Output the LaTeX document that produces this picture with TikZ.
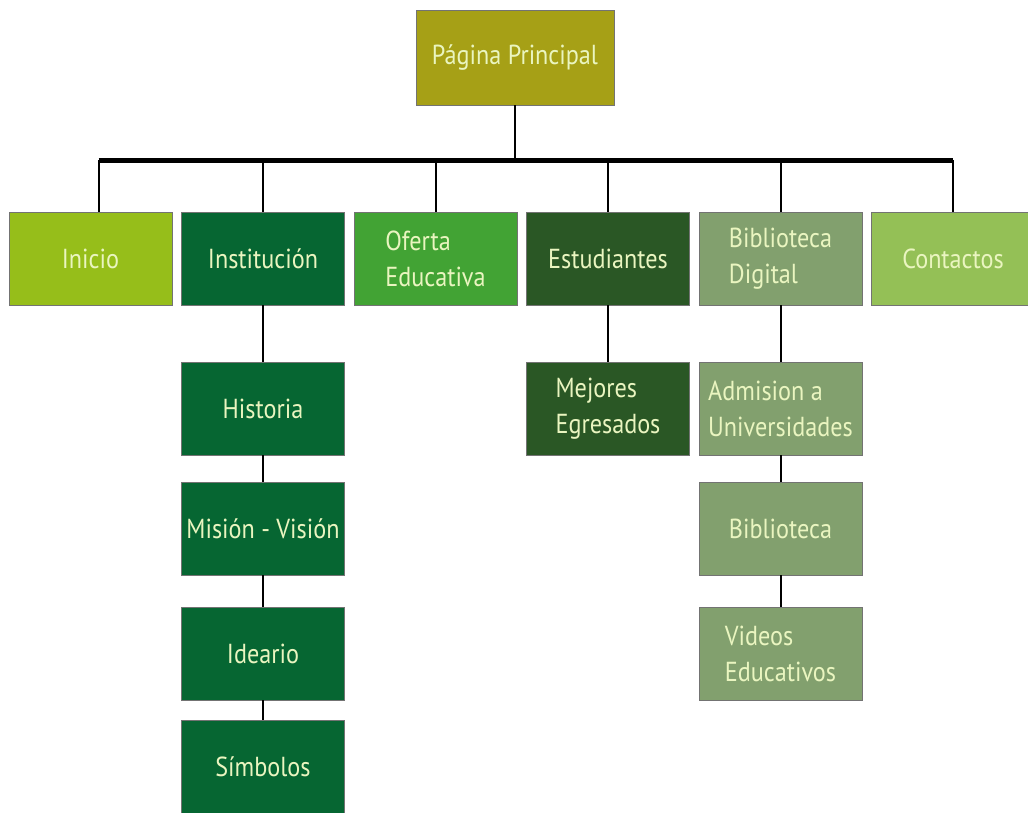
\documentclass[tikz,border=0pt]{standalone}
\usepackage{fontspec}
\setmainfont[FakeStretch=0.88]{PT Sans}
\usepackage{tikz}
\usetikzlibrary{positioning}

\definecolor{olivo}{RGB}{166,160,22}
\definecolor{inicio}{RGB}{150,190,26}
\definecolor{inst}{RGB}{6,102,50}
\definecolor{oferta}{RGB}{66,163,52}
\definecolor{estud}{RGB}{42,87,37}
\definecolor{biblio}{RGB}{130,160,110}
\definecolor{contac}{RGB}{148,192,86}
\definecolor{crema}{RGB}{234,245,192}

\begin{document}
\begin{tikzpicture}[x=1pt, y=-1pt, node distance=172.5pt, on grid,
	caja/.style={draw=black!55, line width=0.8pt, minimum width=163pt, minimum height=93pt,
		inner sep=0pt, align=left, text=crema, font=\fontsize{27.5}{36}\selectfont},
	enlace/.style={line width=2pt},
	barra/.style={line width=5pt}]
	\useasboundingbox (0,0) rectangle (1028,812);

	\node 	(pag) 	[caja, fill=olivo, minimum width=198pt, minimum height=95pt] at (515,57.5)	{Página Principal};
	\node 	(ini) 	[caja, fill=inicio] at (90.5,258.5) 		{Inicio};
	\node 	(inst) 	[caja, fill=inst, right=of ini] 		{Institución};
	\node 	(ofe) 	[caja, fill=oferta, right=of inst] 		{Oferta\\Educativa};
	\node 	(est) 	[caja, fill=estud, right=of ofe] 		{Estudiantes};
	\node 	(bib) 	[caja, fill=biblio, right=of est] 		{Biblioteca\\Digital};
	\node 	(con) 	[caja, fill=contac, right=of bib] 		{Contactos};

	\node 	(his) 	[caja, fill=inst, below=150pt of inst] 	{Historia};
	\node 	(mis) 	[caja, fill=inst, below=120pt of his] 	{Misión - Visión};
	\node 	(ide) 	[caja, fill=inst, below=125pt of mis] 	{Ideario};
	\node 	(sim) 	[caja, fill=inst, below=113pt of ide] 	{Símbolos};

	\node 	(mej) 	[caja, fill=estud, below=150pt of est] 	{Mejores\\Egresados};

	\node 	(adm) 	[caja, fill=biblio, below=150pt of bib] 	{Admision a\\Universidades};
	\node 	(bibl) 	[caja, fill=biblio, below=120pt of adm] 	{Biblioteca};
	\node 	(vid) 	[caja, fill=biblio, below=125pt of bibl] 	{Videos\\Educativos};

	\coordinate (bar) at (515,160);
	\coordinate (iniTop) at ([xshift=8pt]ini.north);

	\draw [barra] (iniTop |- bar) -- (con |- bar);
	\path [enlace]
	(pag)	edge 	(pag |- bar)
	(iniTop)	edge 	(iniTop |- bar)
	(inst)	edge 	(inst |- bar)
	(ofe)	edge 	(ofe |- bar)
	(est)	edge 	(est |- bar)
	(bib)	edge 	(bib |- bar)
	(con)	edge 	(con |- bar)
	(inst)	edge 	(his)
	(his)	edge 	(mis)
	(mis)	edge 	(ide)
	(ide)	edge 	(sim)
	(est)	edge 	(mej)
	(bib)	edge 	(adm)
	(adm)	edge 	(bibl)
	(bibl)	edge 	(vid)
	;

\end{tikzpicture}
\end{document}
